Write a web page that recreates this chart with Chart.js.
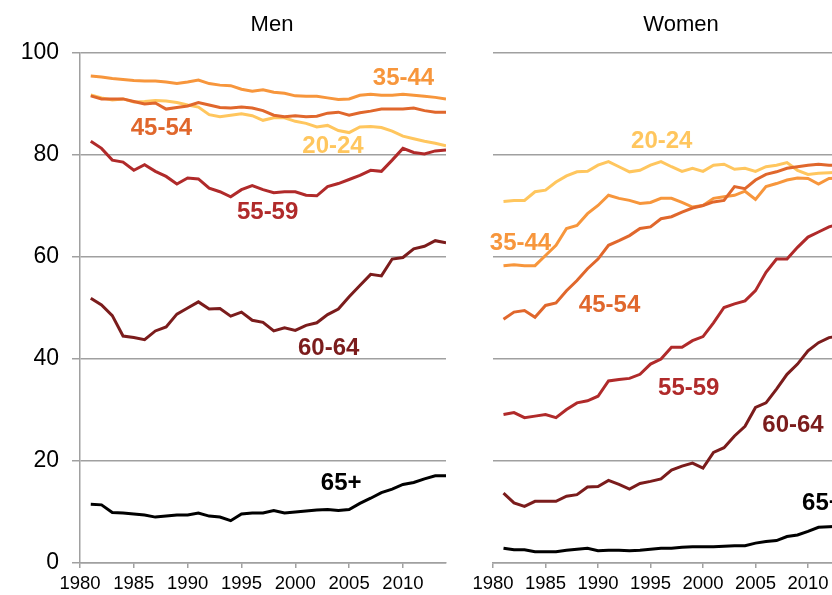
<!DOCTYPE html>
<html>
<head>
<meta charset="utf-8">
<script src="https://cdn.jsdelivr.net/npm/chart.js@4.4.1/dist/chart.umd.min.js"></script>
<style>
  html, body { margin: 0; padding: 0; background: #fff; }
  #wrap { position: relative; width: 832px; height: 595px; overflow: hidden; background: #fff; }
  #men { position: absolute; left: 0; top: 0; }
  #women { position: absolute; left: 465px; top: 0; }
</style>
</head>
<body>
<div id="wrap">
  <canvas id="men" width="460" height="595"></canvas>
  <canvas id="women" width="400" height="595"></canvas>
</div>
<script>
// ---- categories ----
const years = [1981,1982,1983,1984,1985,1986,1987,1988,1989,1990,1991,1992,1993,1994,1995,1996,1997,1998,1999,2000,2001,2002,2003,2004,2005,2006,2007,2008,2009,2010,2011,2012,2013,2014];
const womenYears = [1981,1982,1983,1984,1985,1986,1987,1988,1989,1990,1991,1992,1993,1994,1995,1996,1997,1998,1999,2000,2001,2002,2003,2004,2005,2006,2007,2008,2009,2010,2011,2012,2013];
const xTickValues = [1980,1985,1990,1995,2000,2005,2010];
const yTickValues = [0,20,40,60,80,100];
const seriesNames = ['20-24','35-44','45-54','55-59','60-64','65+'];

// ---- Men ----
const men2024 = [91.8,91.2,90.8,91.0,90.4,90.5,90.7,90.6,90.3,89.8,89.4,87.9,87.5,87.8,88.1,87.7,86.8,87.3,87.3,86.6,86.2,85.5,85.8,84.8,84.4,85.5,85.6,85.4,84.7,83.7,83.2,82.7,82.3,81.8];
const men3544 = [95.5,95.3,95.0,94.8,94.6,94.5,94.5,94.3,94.0,94.3,94.7,94.0,93.7,93.6,92.9,92.5,92.8,92.3,92.1,91.6,91.5,91.5,91.2,90.9,91.0,91.7,91.9,91.7,91.7,91.9,91.7,91.5,91.3,91.0];
const men4554 = [91.6,91.0,91.0,91.0,90.5,90.0,90.2,89.0,89.3,89.6,90.3,89.8,89.3,89.2,89.4,89.2,88.7,87.8,87.5,87.7,87.5,87.6,88.2,88.4,87.8,88.3,88.6,89.0,89.0,89.0,89.2,88.7,88.4,88.4];
const men5559 = [82.7,81.3,79.0,78.6,77.0,78.1,76.8,75.8,74.3,75.5,75.3,73.5,72.8,71.8,73.2,74.0,73.2,72.6,72.8,72.8,72.1,72.0,73.8,74.4,75.2,76.0,77.0,76.8,79.0,81.3,80.5,80.2,80.8,81.0];
const men6064 = [51.9,50.6,48.5,44.5,44.2,43.8,45.5,46.3,48.8,50.0,51.2,49.8,49.9,48.4,49.2,47.6,47.2,45.5,46.1,45.6,46.6,47.1,48.7,49.8,52.2,54.4,56.6,56.3,59.6,59.9,61.6,62.1,63.2,62.8];
const men65 = [11.5,11.4,9.9,9.8,9.6,9.4,9.0,9.2,9.4,9.4,9.8,9.2,9.0,8.3,9.6,9.8,9.8,10.3,9.8,10.0,10.2,10.4,10.5,10.3,10.5,11.7,12.7,13.8,14.5,15.4,15.8,16.5,17.1,17.1];

// ---- Women ----
const women2024 = [70.9,71.1,71.1,72.8,73.1,74.7,75.9,76.7,76.8,78.0,78.7,77.7,76.7,77.0,78.0,78.7,77.7,76.8,77.4,76.8,78.0,78.2,77.2,77.4,76.8,77.7,78.0,78.5,77.0,76.2,76.4,76.5,76.6];
const women3544 = [58.3,58.5,58.3,58.3,60.3,62.3,65.6,66.2,68.5,70.1,72.1,71.5,71.1,70.5,70.7,71.5,71.5,70.7,69.8,70.1,71.5,71.8,72.1,72.9,71.3,73.8,74.4,75.1,75.5,75.4,74.3,75.4,75.5];
const women4554 = [47.8,49.2,49.5,48.2,50.5,51.0,53.4,55.4,57.7,59.6,62.3,63.2,64.2,65.6,65.9,67.5,67.9,68.8,69.6,70.1,70.8,71.1,73.8,73.4,75.1,76.2,76.7,77.4,77.7,78.0,78.2,78.0,78.0];
const women5559 = [29.1,29.5,28.5,28.8,29.1,28.5,30.1,31.4,31.8,32.7,35.7,36.0,36.2,37.0,39.0,40.0,42.3,42.3,43.6,44.4,47.1,50.1,50.8,51.4,53.4,57.0,59.6,59.6,61.9,63.9,64.9,65.9,66.5];
const women6064 = [13.7,11.8,11.1,12.1,12.1,12.1,13.1,13.4,14.9,15.0,16.2,15.4,14.5,15.6,16.0,16.5,18.2,19.0,19.6,18.6,21.7,22.6,24.9,26.8,30.5,31.4,34.1,37.0,39.0,41.6,43.2,44.2,44.5];
const women65 = [2.9,2.6,2.6,2.2,2.2,2.2,2.5,2.7,2.9,2.4,2.5,2.5,2.4,2.5,2.7,2.9,2.9,3.1,3.2,3.2,3.2,3.3,3.4,3.4,3.9,4.2,4.4,5.2,5.5,6.2,7.0,7.1,7.2];

// ---- styles ----
const colors = {
  '20-24': '#FFC65E',
  '35-44': '#F7963C',
  '45-54': '#E0672C',
  '55-59': '#B02A2A',
  '60-64': '#7B1C1C',
  '65+':   '#000000'
};
const drawOrder = { '20-24': 6, '35-44': 5, '45-54': 4, '55-59': 3, '60-64': 2, '65+': 1 };
const FONT = "'Liberation Sans', Arial, Helvetica, sans-serif";
const GRID = '#A0A0A0';

// label annotations (data coordinates of text centres)
const menLabels = [
  { text: '35-44', x: 2010.05, y: 95.4 },
  { text: '45-54', x: 1987.56, y: 85.6 },
  { text: '20-24', x: 2003.5,  y: 82.1 },
  { text: '55-59', x: 1997.43, y: 69.2 },
  { text: '60-64', x: 2003.1,  y: 42.4 },
  { text: '65+',   x: 2004.26, y: 16.05 }
];
const womenLabels = [
  { text: '20-24', x: 1996.07, y: 83.1 },
  { text: '35-44', x: 1982.62, y: 63.0 },
  { text: '45-54', x: 1991.1,  y: 50.9 },
  { text: '55-59', x: 1998.64, y: 34.6 },
  { text: '60-64', x: 2008.57, y: 27.4 },
  { text: '65+',   x: 2011.37, y: 12.0 }
];

function pairs(xs, vals) { return vals.map((v, i) => ({ x: xs[i], y: v })); }

function makeDatasets(xs, list) {
  return list.map(([name, vals]) => ({
    label: name,
    data: pairs(xs, vals),
    borderColor: colors[name],
    backgroundColor: colors[name],
    borderWidth: 3,
    pointRadius: 0,
    tension: 0,
    fill: false,
    order: drawOrder[name]
  }));
}

const annotPlugin = {
  id: 'annot',
  afterDatasetsDraw(chart, args, opts) {
    const ctx = chart.ctx;
    const xs = chart.scales.x, ys = chart.scales.y;
    ctx.save();
    ctx.textAlign = 'center';
    ctx.textBaseline = 'alphabetic';
    ctx.font = 'bold 24px ' + FONT;
    opts.labels.forEach(l => {
      ctx.fillStyle = colors[l.text];
      ctx.fillText(l.text, xs.getPixelForValue(l.x), ys.getPixelForValue(l.y) + 24 * 0.358);
    });
    ctx.font = '22px ' + FONT;
    ctx.fillStyle = '#000';
    ctx.fillText(opts.title, opts.titleX, 31);
    ctx.restore();
  }
};

function makeOptions(isMen, labels, title, titleX, rightPad, yWidth) {
  return {
    responsive: false,
    animation: false,
    events: [],
    layout: { padding: { top: 53, right: rightPad, left: 0, bottom: 0 } },
    plugins: {
      legend: { display: false },
      tooltip: { enabled: false },
      title: { display: false },
      annot: { labels: labels, title: title, titleX: titleX }
    },
    scales: {
      x: {
        type: 'linear',
        min: 1980, max: 2014,
        afterBuildTicks: s => { s.ticks = xTickValues.map(v => ({ value: v })); },
        afterFit: s => { s.height = 32; },
        ticks: {
          autoSkip: false, maxRotation: 0, padding: 5,
          color: '#000',
          font: { family: FONT, size: 18.5 },
          callback: v => String(v)
        },
        grid: { drawOnChartArea: false, drawTicks: true, tickLength: 5, color: GRID, lineWidth: 1.5 },
        border: { display: true, color: GRID, width: 1.5 }
      },
      y: {
        min: 0, max: 100,
        afterBuildTicks: s => { s.ticks = yTickValues.map(v => ({ value: v })); },
        afterFit: s => { s.width = yWidth; },
        ticks: {
          display: isMen, padding: 13, color: '#000',
          font: { family: FONT, size: 23 },
          callback: v => String(v)
        },
        grid: { color: GRID, lineWidth: 1.5, drawTicks: isMen, tickLength: 8 },
        border: { display: isMen, color: GRID, width: 1.5 }
      }
    }
  };
}

new Chart(document.getElementById('men'), {
  type: 'line',
  data: {
    datasets: makeDatasets(years, [
      ['20-24', men2024], ['35-44', men3544], ['45-54', men4554],
      ['55-59', men5559], ['60-64', men6064], ['65+', men65]
    ])
  },
  options: makeOptions(true, menLabels, 'Men', 272, 14, 80),
  plugins: [annotPlugin]
});

new Chart(document.getElementById('women'), {
  type: 'line',
  data: {
    datasets: makeDatasets(womenYears, [
      ['20-24', women2024], ['35-44', women3544], ['45-54', women4554],
      ['55-59', women5559], ['60-64', women6064], ['65+', women65]
    ])
  },
  options: makeOptions(false, womenLabels, 'Women', 216, 15, 28),
  plugins: [annotPlugin]
});
</script>
</body>
</html>
